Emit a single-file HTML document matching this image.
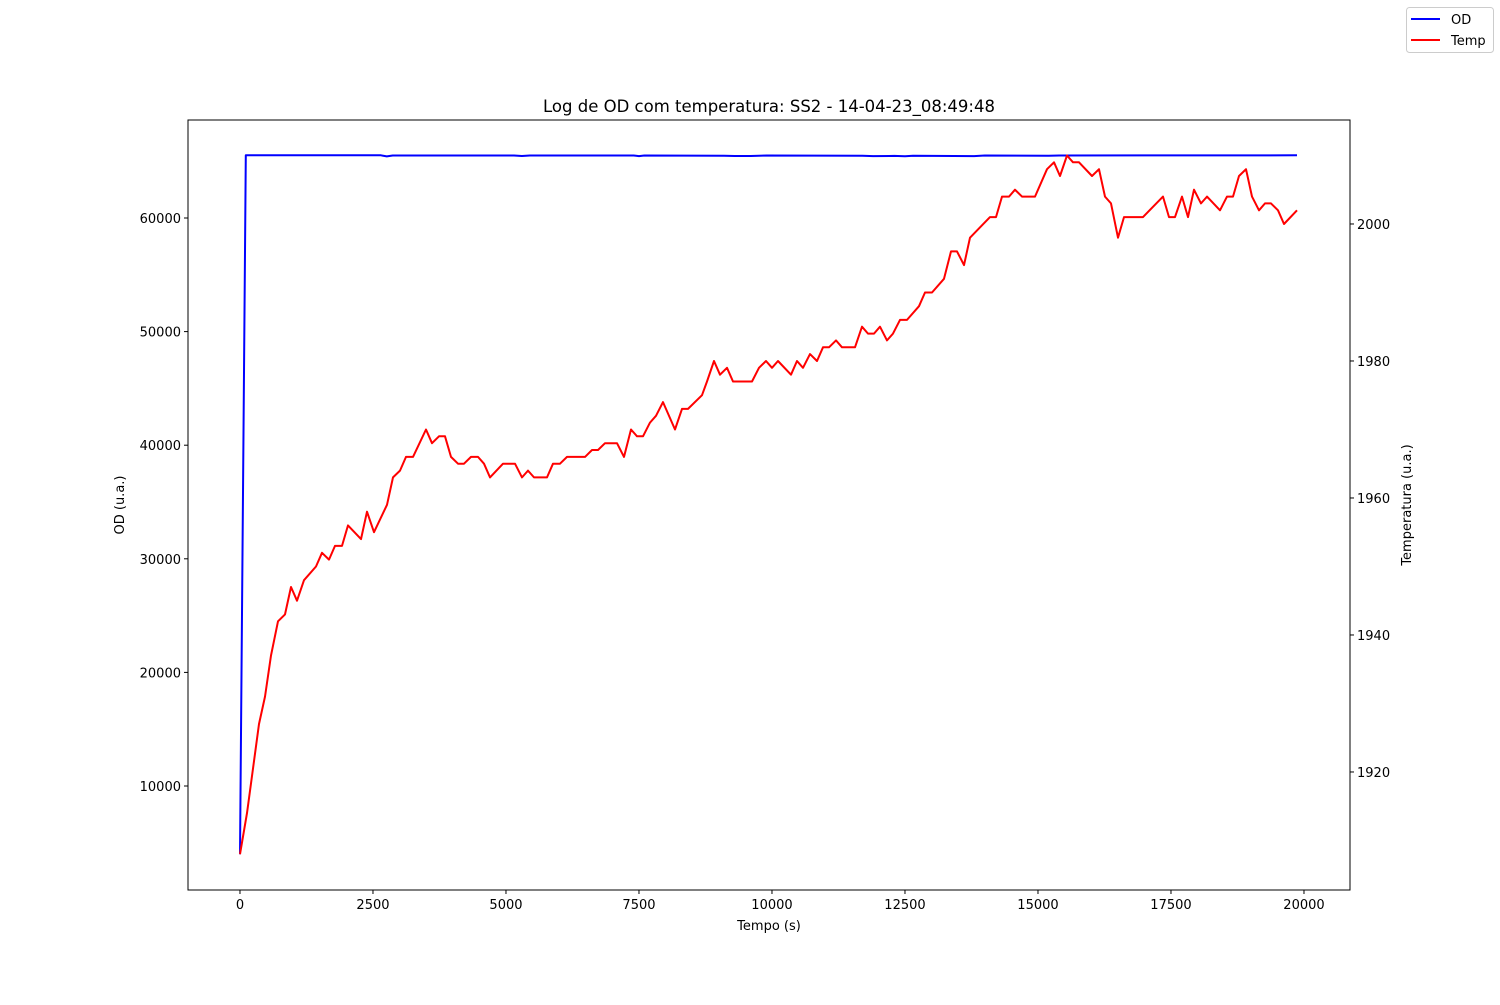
<!DOCTYPE html>
<html><head><meta charset="utf-8"><style>
body{margin:0;background:#fff;}
svg text{font-family:"DejaVu Sans","Liberation Sans",sans-serif;}
</style></head><body>
<svg id="chart" width="1500" height="1000" xmlns="http://www.w3.org/2000/svg">
<rect width="1500" height="1000" fill="#fff"/>
</svg>
<script>
const tempTimes=[0,132,357,470,583,714,846,959,1071,1203,1429,1541,1673,1786,1917,2030,2274,2387,2519,2763,2876,3008,3120,3252,3496,3609,3741,3853,3966,4098,4211,4342,4474,4586,4699,4944,5169,5301,5414,5526,5771,5883,6015,6147,6485,6617,6729,6861,7086,7218,7350,7462,7575,7707,7820,7951,8177,8308,8421,8684,8778,8910,9023,9154,9267,9624,9756,9887,10000,10113,10357,10470,10583,10714,10846,10959,11071,11203,11316,11560,11692,11805,11917,12030,12162,12274,12406,12538,12763,12876,13008,13233,13365,13477,13609,13722,14098,14211,14323,14455,14568,14699,14944,15169,15301,15414,15545,15658,15771,16015,16147,16259,16372,16504,16617,16974,17350,17462,17575,17707,17820,17932,18064,18177,18421,18553,18665,18778,18910,19023,19154,19267,19380,19511,19624,19868];
const tempValues=[1908,1914,1927,1931,1937,1942,1943,1947,1945,1948,1950,1952,1951,1953,1953,1956,1954,1958,1955,1959,1963,1964,1966,1966,1970,1968,1969,1969,1966,1965,1965,1966,1966,1965,1963,1965,1965,1963,1964,1963,1963,1965,1965,1966,1966,1967,1967,1968,1968,1966,1970,1969,1969,1971,1972,1974,1970,1973,1973,1975,1977,1980,1978,1979,1977,1977,1979,1980,1979,1980,1978,1980,1979,1981,1980,1982,1982,1983,1982,1982,1985,1984,1984,1985,1983,1984,1986,1986,1988,1990,1990,1992,1996,1996,1994,1998,2001,2001,2004,2004,2005,2004,2004,2008,2009,2007,2010,2009,2009,2007,2008,2004,2003,1998,2001,2001,2004,2001,2001,2004,2001,2005,2003,2004,2002,2004,2004,2007,2008,2004,2002,2003,2003,2002,2000,2002];
const odTimes=[0,110,2650,2760,2870,5150,5300,5450,7400,7500,7600,9100,9300,9600,9900,11700,11900,12300,12500,12650,13800,14000,15200,15400,19868];
const odValues=[4000,65520,65520,65420,65500,65500,65460,65500,65500,65450,65500,65480,65460,65460,65500,65480,65450,65470,65430,65480,65450,65500,65480,65500,65520];
const xTicks=[0,2500,5000,7500,10000,12500,15000,17500,20000];
const yTicks=[10000,20000,30000,40000,50000,60000];
const y2Ticks=[1920,1940,1960,1980,2000];

const L=188,R=1350,T=120,B=890;
const xMin=-977,xMax=20865,yMin=845,yMax=68627,y2Min=1902.77,y2Max=2015.18;
const sx=v=>L+(v-xMin)/(xMax-xMin)*(R-L);
const sy=v=>B-(v-yMin)/(yMax-yMin)*(B-T);
const sy2=v=>B-(v-y2Min)/(y2Max-y2Min)*(B-T);
const svg=document.getElementById('chart');
const NS='http://www.w3.org/2000/svg';
function mk(tag,attrs,parent){const e=document.createElementNS(NS,tag);for(const k in attrs)e.setAttribute(k,attrs[k]);(parent||svg).appendChild(e);return e;}
function txt(s,attrs){const e=mk('text',attrs);e.textContent=s;return e;}

const odPath=mk('path',{d:odTimes.map((t,i)=>(i?'L':'M')+sx(t).toFixed(1)+','+sy(odValues[i]).toFixed(1)).join(''),fill:'none',stroke:'#0000ff','stroke-width':2,'stroke-linejoin':'round'});


const tPath=mk('path',{d:tempTimes.map((t,i)=>(i?'L':'M')+sx(t).toFixed(1)+','+sy2(tempValues[i]).toFixed(1)).join(''),fill:'none',stroke:'#ff0000','stroke-width':2,'stroke-linejoin':'round'});



const frame=mk('rect',{x:L,y:T,width:R-L,height:B-T,fill:'none',stroke:'#000','stroke-width':1});



xTicks.forEach(v=>{const x=sx(v);mk('line',{x1:x,x2:x,y1:B,y2:B+4,stroke:'#000'});
 const t=txt(String(v),{x:x,y:B+19,'font-size':13,'text-anchor':'middle'});
 
 });
yTicks.forEach(v=>{const y=sy(v);mk('line',{x1:L-4,x2:L,y1:y,y2:y,stroke:'#000'});
 const t=txt(String(v),{x:L-7,y:y+5,'font-size':13,'text-anchor':'end'});
 
 });
y2Ticks.forEach(v=>{const y=sy2(v);mk('line',{x1:R,x2:R+4,y1:y,y2:y,stroke:'#000'});
 const t=txt(String(v),{x:R+7,y:y+5,'font-size':13,'text-anchor':'start'});
 
 });

const ttl=txt('Log de OD com temperatura: SS2 - 14-04-23_08:49:48',{x:769,y:112,'font-size':16.5,'text-anchor':'middle'});


const xl=txt('Tempo (s)',{x:769,y:930,'font-size':13,'text-anchor':'middle'});


const yl=txt('OD (u.a.)',{x:0,y:0,'font-size':13,'text-anchor':'middle',transform:'translate(124,505) rotate(-90)'});


const y2l=txt('Temperatura (u.a.)',{x:0,y:0,'font-size':13,'text-anchor':'middle',transform:'translate(1411,505) rotate(-90)'});



const lg=mk('g',{});


mk('rect',{x:1406.5,y:7.5,width:87,height:45,rx:3,fill:'#fff',stroke:'#ccc'},lg);
mk('line',{x1:1411,x2:1440,y1:19,y2:19,stroke:'#0000ff','stroke-width':2},lg);
mk('line',{x1:1411,x2:1440,y1:40,y2:40,stroke:'#ff0000','stroke-width':2},lg);
const l1=mk('text',{x:1451,y:24,'font-size':13},lg);l1.textContent='OD';


const l2=mk('text',{x:1451,y:45,'font-size':13},lg);l2.textContent='Temp';


</script>
</body></html>
